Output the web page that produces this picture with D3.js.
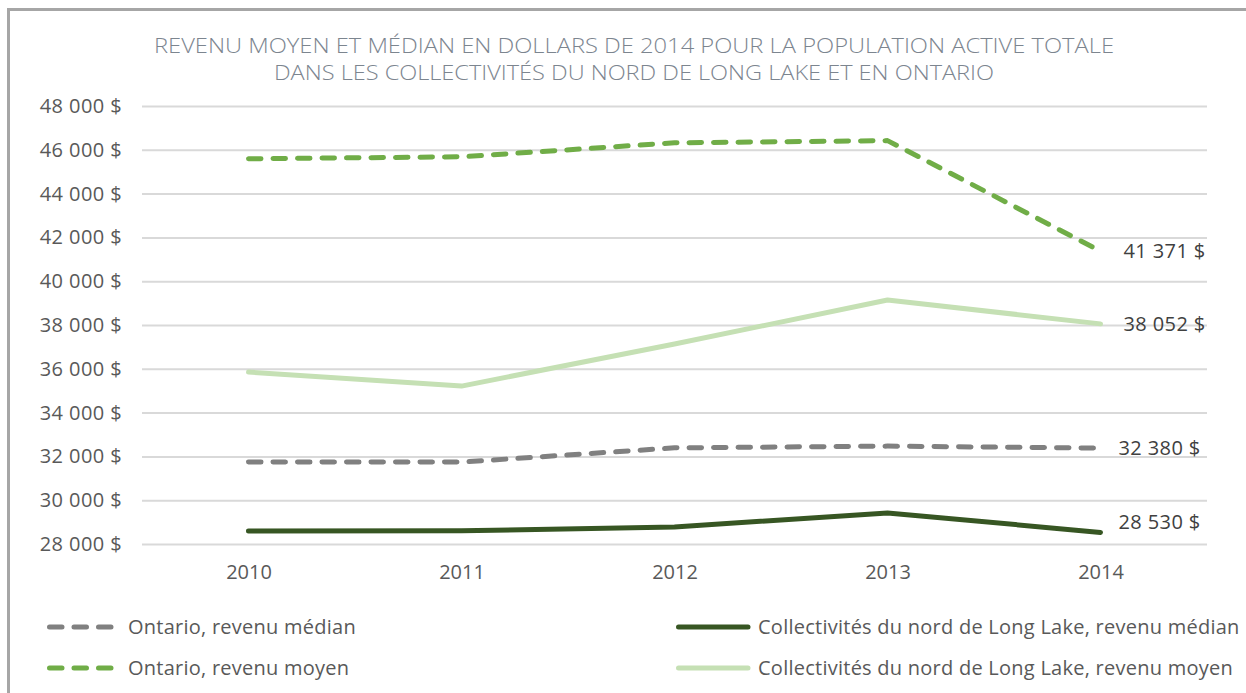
<!DOCTYPE html>
<html>
<head>
<meta charset="utf-8">
<script src="https://cdn.jsdelivr.net/npm/d3@7"></script>
<style>
  body { margin: 0; background: #fff; }
  svg { display: block; font-family: "Open Sans", Lato, sans-serif; }
</style>
</head>
<body>
<div id="chart"></div>
<script>
// donnees
const years = ["2010", "2011", "2012", "2013", "2014"];
const ontarioMedian = [31750, 31740, 32390, 32470, 32380];
const longLakeMedian = [28590, 28600, 28780, 29420, 28530];
const ontarioMoyen = [45590, 45680, 46320, 46420, 41371];
const longLakeMoyen = [35850, 35210, 37130, 39140, 38052];
const yTicks = [28000, 30000, 32000, 34000, 36000, 38000, 40000, 42000, 44000, 46000, 48000];
const seriesNames = [
  "Ontario, revenu médian",
  "Collectivités du nord de Long Lake, revenu médian",
  "Ontario, revenu moyen",
  "Collectivités du nord de Long Lake, revenu moyen"
];
const titleLines = [
  "REVENU MOYEN ET MÉDIAN EN DOLLARS DE 2014 POUR LA POPULATION ACTIVE TOTALE",
  "DANS LES COLLECTIVITÉS DU NORD DE LONG LAKE ET EN ONTARIO"
];

const width = 1246, height = 693;
const fmt = v => d3.format(",")(v).replace(/,/g, " ") + " $";

const series = [
  { name: seriesNames[0], values: ontarioMedian, color: "#808080", dash: true, labelDx: 18, labelDy: 0 },
  { name: seriesNames[1], values: longLakeMedian, color: "#375623", dash: false, labelDx: 18, labelDy: -10 },
  { name: seriesNames[2], values: ontarioMoyen, color: "#70ad47", dash: true, labelDx: 23, labelDy: 0 },
  { name: seriesNames[3], values: longLakeMoyen, color: "#c5e0b4", dash: false, labelDx: 23, labelDy: 0 }
];

const svg = d3.select("#chart").append("svg")
  .attr("width", width)
  .attr("height", height);

// cadre gris
svg.append("path")
  .attr("d", "M8.5," + height + " V9.5 H" + width)
  .attr("fill", "none")
  .attr("stroke", "#a6a6a6")
  .attr("stroke-width", 3);

// titre
svg.selectAll("text.title")
  .data(titleLines)
  .enter().append("text")
  .attr("class", "title")
  .attr("x", 634)
  .attr("y", (d, i) => 53 + i * 27)
  .attr("text-anchor", "middle")
  .attr("font-size", 20)
  .attr("font-weight", 300)
  .attr("fill", "#7c858f")
  .attr("textLength", (d, i) => i === 0 ? 960 : 720)
  .attr("lengthAdjust", "spacingAndGlyphs")
  .text(d => d);

const x = d3.scalePoint().domain(years).range([142, 1207]).padding(0.5);
const y = d3.scaleLinear().domain([28000, 48000]).range([544, 106]);

// grille + axe y
const yAxis = svg.append("g")
  .attr("transform", "translate(142,0)")
  .call(d3.axisLeft(y).tickValues(yTicks).tickSize(-1065).tickPadding(20).tickFormat(fmt));
yAxis.select(".domain").remove();
yAxis.selectAll(".tick line").attr("stroke", "#d9d9d9").attr("stroke-width", 2);
yAxis.selectAll(".tick text")
  .attr("font-size", 20)
  .attr("font-family", "'Open Sans', sans-serif")
  .attr("letter-spacing", 0.4)
  .attr("fill", "#595959");

// axe x
const xAxis = svg.append("g")
  .attr("transform", "translate(0,544)")
  .call(d3.axisBottom(x).tickSize(0).tickPadding(21));
xAxis.select(".domain").remove();
xAxis.selectAll(".tick text")
  .attr("font-size", 20)
  .attr("font-family", "'Open Sans', sans-serif")
  .attr("fill", "#595959");

// lignes
const line = d3.line()
  .x((d, i) => x(years[i]))
  .y(d => y(d));

svg.selectAll("path.serie")
  .data(series)
  .enter().append("path")
  .attr("class", "serie")
  .attr("d", d => line(d.values))
  .attr("fill", "none")
  .attr("stroke", d => d.color)
  .attr("stroke-width", 5)
  .attr("stroke-linecap", "round")
  .attr("stroke-linejoin", "round")
  .attr("stroke-dasharray", d => d.dash ? "12.5 12" : null);

// etiquettes de la derniere valeur
const last = years.length - 1;
svg.selectAll("text.lbl")
  .data(series)
  .enter().append("text")
  .attr("class", "lbl")
  .attr("x", d => x(years[last]) + d.labelDx)
  .attr("y", d => y(d.values[last]) + d.labelDy)
  .attr("dy", "0.35em")
  .attr("font-size", 20)
  .attr("letter-spacing", 0.4)
  .attr("fill", "#404040")
  .text(d => fmt(d.values[last]));

// legende
const legendPos = [
  { x: 47, y: 627 }, { x: 676, y: 627 },
  { x: 47, y: 668 }, { x: 676, y: 668 }
];
const legend = svg.selectAll("g.leg")
  .data(series)
  .enter().append("g")
  .attr("class", "leg")
  .attr("transform", (d, i) => "translate(" + legendPos[i].x + "," + legendPos[i].y + ")");

legend.append("line")
  .attr("x1", 2.5)
  .attr("x2", d => d.dash ? 65 : 72)
  .attr("stroke", d => d.color)
  .attr("stroke-width", 5)
  .attr("stroke-linecap", "round")
  .attr("stroke-dasharray", d => d.dash ? "12.5 12" : null);

legend.append("text")
  .attr("x", d => d.dash ? 81 : 82)
  .attr("dy", "0.35em")
  .attr("font-size", 20)
  .attr("letter-spacing", 0.25)
  .attr("fill", "#595959")
  .text(d => d.name);
</script>
</body>
</html>
